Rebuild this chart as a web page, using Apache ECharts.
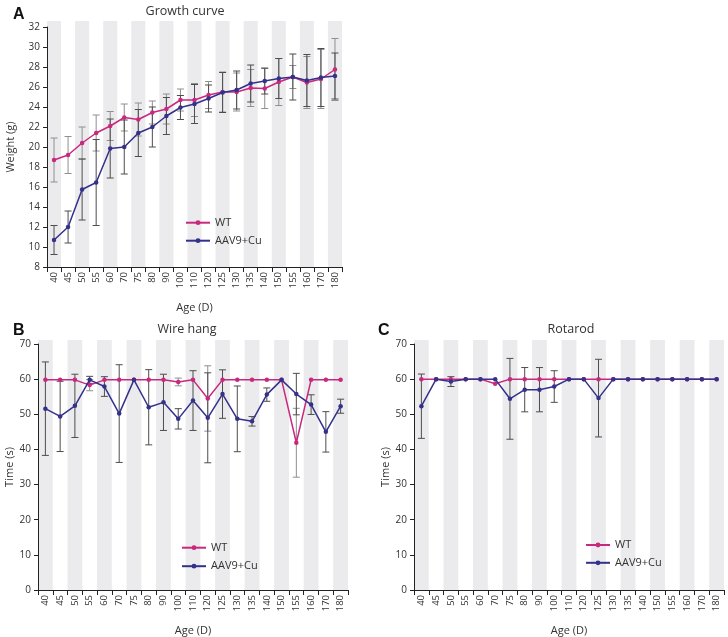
<!DOCTYPE html>
<html><head><meta charset="utf-8">
<script src="https://cdn.jsdelivr.net/npm/echarts@6/dist/echarts.min.js"></script>
<style>html,body{margin:0;padding:0;background:#fff}#c{width:728px;height:637px}</style>
</head><body><div id="c"></div>
<script>
const ages = ['40','45','50','55','60','70','75','80','90','100','110','120','125','130','135','140','150','155','160','170','180'];

// Growth curve (weight, g)
const growthWT     = [18.7,19.2,20.4,21.4,22.1,22.95,22.75,23.45,23.8,24.7,24.7,25.2,25.5,25.5,25.9,25.85,26.5,27.0,26.45,26.8,27.75];
const growthWTsd   = [2.2,1.85,1.6,1.8,1.45,1.35,1.65,1.15,1.5,1.1,1.65,1.35,2.0,1.9,1.85,2.0,2.35,1.15,2.6,2.95,3.1];
const growthAAV    = [10.7,12.0,15.75,16.45,19.85,20.0,21.4,22.0,23.1,23.95,24.3,24.85,25.45,25.7,26.35,26.6,26.85,27.0,26.65,26.95,27.1];
const growthAAVsd  = [1.45,1.6,3.05,4.3,2.95,2.7,2.35,2.0,1.85,1.2,1.95,1.35,2.0,1.9,1.85,1.3,2.0,2.3,2.6,2.9,2.3];

// Wire hang (time, s)
const wireWT       = [59.8,59.8,59.8,58.3,59.8,59.8,59.8,59.8,59.8,59.2,59.8,54.5,59.8,59.8,59.8,59.8,59.8,41.9,59.8,59.8,59.8];
const wireWTsd     = [0,0,0,1.6,0,0,0,0,0,1.1,0,9.3,0,0,0,0,0,9.8,0,0,0];
const wireAAV      = [51.6,49.4,52.4,59.8,57.9,50.2,59.8,52.0,53.4,48.7,53.9,49.0,55.75,48.7,48.0,55.6,59.8,55.75,52.75,45.0,52.3];
const wireAAVsd    = [13.3,10.0,9.0,1.0,2.8,13.9,0,10.7,8.0,2.9,8.5,12.8,6.9,9.35,1.35,1.9,0,5.9,2.8,5.75,2.0];

// Rotarod (time, s)
const rotWT        = [60,60,60,60,60,58.7,60,60,60,60,60,60,60,60,60,60,60,60,60,60,60];
const rotWTsd      = [0,0,0,0,0,0,0,0,0,0,0,0,0,0,0,0,0,0,0,0,0];
const rotAAV       = [52.3,60,59.3,60,60,60,54.4,57.0,57.0,57.9,60,60,54.6,60,60,60,60,60,60,60,60];
const rotAAVsd     = [9.15,0,1.4,0,0,0,11.5,6.3,6.3,4.5,0,0,11.05,0,0,0,0,0,0,0,0];

const titles = ['Growth curve','Wire hang','Rotarod'];
const panelLetters = ['A','B','C'];

const PINK = '#c8287e', BLUE = '#33318a';
const FONT = 'Open Sans';

function errData(v, sd){
  return v.map((x,i)=> sd[i] > 0 ? [i, x - sd[i], x + sd[i]] : null).filter(Boolean);
}
function errRender(params, api){
  const x = api.value(0), lo = api.value(1), hi = api.value(2);
  const p1 = api.coord([x, hi]), p2 = api.coord([x, lo]);
  const w = 3.5;
  const style = {stroke: api.visual('color'), lineWidth: 1};
  return {type:'group', children:[
    {type:'line', shape:{x1:p1[0],y1:p1[1],x2:p2[0],y2:p2[1]}, style},
    {type:'line', shape:{x1:p1[0]-w,y1:p1[1],x2:p1[0]+w,y2:p1[1]}, style},
    {type:'line', shape:{x1:p2[0]-w,y1:p2[1],x2:p2[0]+w,y2:p2[1]}, style}
  ]};
}
const bandIdx = ages.map((_,i)=>i).filter(i=>i%2===0);
function bandRender(ext){
  return function(params, api){
    const i = api.value(0);
    const ymin = api.value(1), ymax = api.value(2);
    const b = api.coord([i, ymin]), t = api.coord([i, ymax]);
    const w = api.size([1, 0])[0];
    return {type:'rect', shape:{x:b[0]-w/2, y:t[1]-ext, width:w, height:b[1]-t[1]+ext}, style:{fill:'#ebebed'}, silent:true};
  };
}

const grids = [
  {left:47, top:27, width:295, height:240},
  {left:38, top:344, width:310, height:249},
  {left:414, top:344, width:310, height:249}
];
const yRanges = [[8,32,2],[0,70,10],[0,70,10]];
const yNames = ['Weight (g)','Time (s)','Time (s)'];
const yNameGaps = [31,22,23];

const xAxes = grids.map((g,k)=>({
  type:'category', gridIndex:k, data:ages, boundaryGap:true,
  name:'Age (D)', nameLocation:'middle', nameGap:35,
  nameTextStyle:{fontFamily:FONT, fontSize:11, color:'#333'},
  axisLine:{lineStyle:{color:'#222', width:1}},
  axisTick:{show:true, alignWithLabel:false, length:5, lineStyle:{color:'#222'}},
  axisLabel:{rotate:90, fontFamily:FONT, fontSize:9.5, color:'#333', margin:5, interval:0},
  splitLine:{show:false}
}));
const yAxes = grids.map((g,k)=>({
  type:'value', gridIndex:k, min:yRanges[k][0], max:yRanges[k][1], interval:yRanges[k][2],
  name:yNames[k], nameLocation:'middle', nameGap:yNameGaps[k], nameRotate:90,
  nameTextStyle:{fontFamily:FONT, fontSize:11, color:'#333'},
  axisLine:{show:true, lineStyle:{color:'#222', width:1}},
  axisTick:{show:true, length:4, lineStyle:{color:'#222'}},
  axisLabel:{fontFamily:FONT, fontSize:10, color:'#333', margin:7},
  splitLine:{show:false}
}));

const panels = [
  [growthWT, growthWTsd, growthAAV, growthAAVsd],
  [wireWT, wireWTsd, wireAAV, wireAAVsd],
  [rotWT, rotWTsd, rotAAV, rotAAVsd]
];
const bandExt = [6,4,4];
const series = [];
panels.forEach((p,k)=>{
  series.push({
    type:'custom', name:'bands'+k, xAxisIndex:k, yAxisIndex:k, z:0, silent:true,
    renderItem:bandRender(bandExt[k]), clip:false,
    data: bandIdx.map(i=>[i, yRanges[k][0], yRanges[k][1]]),
    encode:{x:0, y:[1,2]}
  });
  series.push({
    type:'custom', name:'errWT'+k, xAxisIndex:k, yAxisIndex:k, z:2,
    itemStyle:{color:'#8f8f8f'}, renderItem:errRender, data:errData(p[0],p[1]), encode:{x:0,y:[1,2]}
  });
  series.push({
    type:'custom', name:'errAAV'+k, xAxisIndex:k, yAxisIndex:k, z:2,
    itemStyle:{color:'#4d4d4d'}, renderItem:errRender, data:errData(p[2],p[3]), encode:{x:0,y:[1,2]}
  });
  series.push({
    type:'line', name:'WT', xAxisIndex:k, yAxisIndex:k, z:3, data:p[0],
    symbol:'circle', symbolSize:4.5, lineStyle:{color:PINK, width:1.5}, itemStyle:{color:PINK}
  });
  series.push({
    type:'line', name:'AAV9+Cu', xAxisIndex:k, yAxisIndex:k, z:4, data:p[2],
    symbol:'circle', symbolSize:4.5, lineStyle:{color:BLUE, width:1.5}, itemStyle:{color:BLUE}
  });
});

const legendPos = [{left:180, top:212.2, gap:7}, {left:176, top:537.2, gap:7.5}, {left:580, top:534.5, gap:6.8}];
const legends = legendPos.map(lp=>({
  left:lp.left, top:lp.top, orient:'vertical', itemWidth:24, itemHeight:6, itemGap:lp.gap,
  data:['WT','AAV9+Cu'], textStyle:{fontFamily:FONT, fontSize:11, color:'#333'}, selectedMode:false
}));

const titleArr = [
  {text:titles[0], left:180, top:0, textAlign:'center', textStyle:{fontFamily:FONT, fontSize:12.5, fontWeight:'normal', color:'#333'}},
  {text:titles[1], left:182, top:318, textAlign:'center', textStyle:{fontFamily:FONT, fontSize:12.5, fontWeight:'normal', color:'#333'}},
  {text:titles[2], left:566, top:318, textAlign:'center', textStyle:{fontFamily:FONT, fontSize:12.5, fontWeight:'normal', color:'#333'}},
  {text:panelLetters[0], left:8, top:2, textStyle:{fontFamily:'Liberation Sans', fontSize:16, fontWeight:'bold', color:'#111'}},
  {text:panelLetters[1], left:8, top:318, textStyle:{fontFamily:'Liberation Sans', fontSize:16, fontWeight:'bold', color:'#111'}},
  {text:panelLetters[2], left:373, top:318, textStyle:{fontFamily:'Liberation Sans', fontSize:16, fontWeight:'bold', color:'#111'}}
];

const chart = echarts.init(document.getElementById('c'), null, {renderer:'canvas'});
chart.setOption({
  animation:false,
  backgroundColor:'#fff',
  title:titleArr,
  legend:legends,
  grid:grids,
  xAxis:xAxes,
  yAxis:yAxes,
  series:series
});
</script></body></html>
